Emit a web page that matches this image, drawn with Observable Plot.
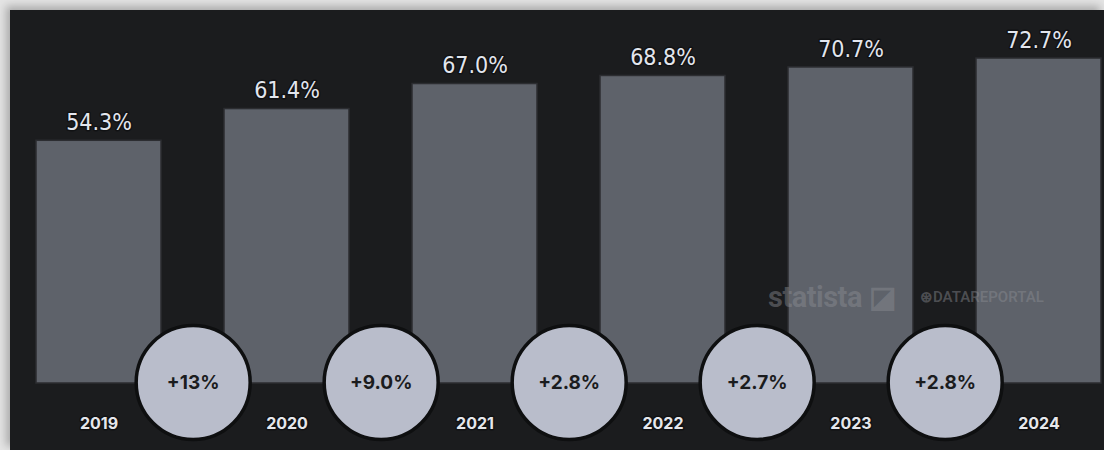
<!DOCTYPE html>
<html>
<head>
<meta charset="utf-8">
<script src="https://cdn.jsdelivr.net/npm/d3@7"></script>
<script src="https://cdn.jsdelivr.net/npm/@observablehq/plot@0.6"></script>
<style>
  html, body { margin: 0; padding: 0; background: #e4e4e4; overflow: hidden; }
  #frame {
    position: absolute; left: 10px; top: 10px; width: 1094px; height: 440px;
    background: #1b1c1e; box-shadow: -4px -4px 8px rgba(0,0,0,0.25);
  }
  #chart svg { display: block; }
  .wm { position: absolute; color: rgba(140,142,148,0.45); font-family: "Roboto", sans-serif; white-space: nowrap; }
</style>
</head>
<body>
<div id="frame">
  <div id="chart"></div>
  <div class="wm" style="left:758px; top:270px; font-size:29px; font-weight:700; letter-spacing:-0.5px;">statista ◪</div>
  <div class="wm" style="left:910px; top:278px; font-size:15px; font-weight:600;">⊛DATAREPORTAL</div>
</div>
<script>
const years = ["2019", "2020", "2021", "2022", "2023", "2024"];
const shares = [54.3, 61.4, 67.0, 68.8, 70.7, 72.7];
const shareLabels = ["54.3%", "61.4%", "67.0%", "68.8%", "70.7%", "72.7%"];
const growthFrom = ["2019", "2020", "2021", "2022", "2023"];
const growthLabels = ["+13%", "+9.0%", "+2.8%", "+2.7%", "+2.8%"];

const bars = years.map((year, i) => ({year, share: shares[i], label: shareLabels[i]}));
const growth = growthFrom.map((year, i) => ({year, label: growthLabels[i]}));

const xRange = [25, 1092];
const step = (xRange[1] - xRange[0]) / (years.length - 0.335);

const chart = Plot.plot({
  width: 1094,
  height: 440,
  marginTop: 0, marginBottom: 0, marginLeft: 0, marginRight: 0,
  style: {background: "transparent"},
  x: {domain: years, range: xRange, padding: 0.335, paddingOuter: 0, axis: null},
  y: {domain: [0, 80], range: [373, 15.4], axis: null},
  marks: [
    Plot.barY(bars, {x: "year", y: "share", fill: "#5e626a", stroke: "#2c2d31", strokeWidth: 1.5}),
    Plot.text(bars, {
      x: "year", y: "share", text: "label", dy: -18,
      fill: "#e3e6ee", stroke: "#111214", strokeWidth: 3,
      fontSize: 23, fontFamily: "'DejaVu Sans Condensed', 'Liberation Sans Narrow', sans-serif",
      fontStretch: "condensed"
    }),
    Plot.text(bars, {
      x: "year", y: () => 0, text: "year", dy: 40,
      fill: "#e6e7ec", stroke: "#111214", strokeWidth: 3,
      fontSize: 16, fontWeight: 700, fontFamily: "Inter, 'Noto Sans', sans-serif"
    }),
    Plot.dot(growth, {
      x: "year", y: () => 0, dx: step / 2, dy: -1, r: 57,
      fill: "#b9bdcb", stroke: "#0e0f10", strokeWidth: 3.5
    }),
    Plot.text(growth, {
      x: "year", y: () => 0, dx: step / 2, dy: -1, text: "label",
      fill: "#1b1c1e", fontSize: 19, fontWeight: 700,
      fontFamily: "Inter, 'Noto Sans', sans-serif"
    })
  ]
});
document.getElementById("chart").appendChild(chart);
</script>
</body>
</html>
